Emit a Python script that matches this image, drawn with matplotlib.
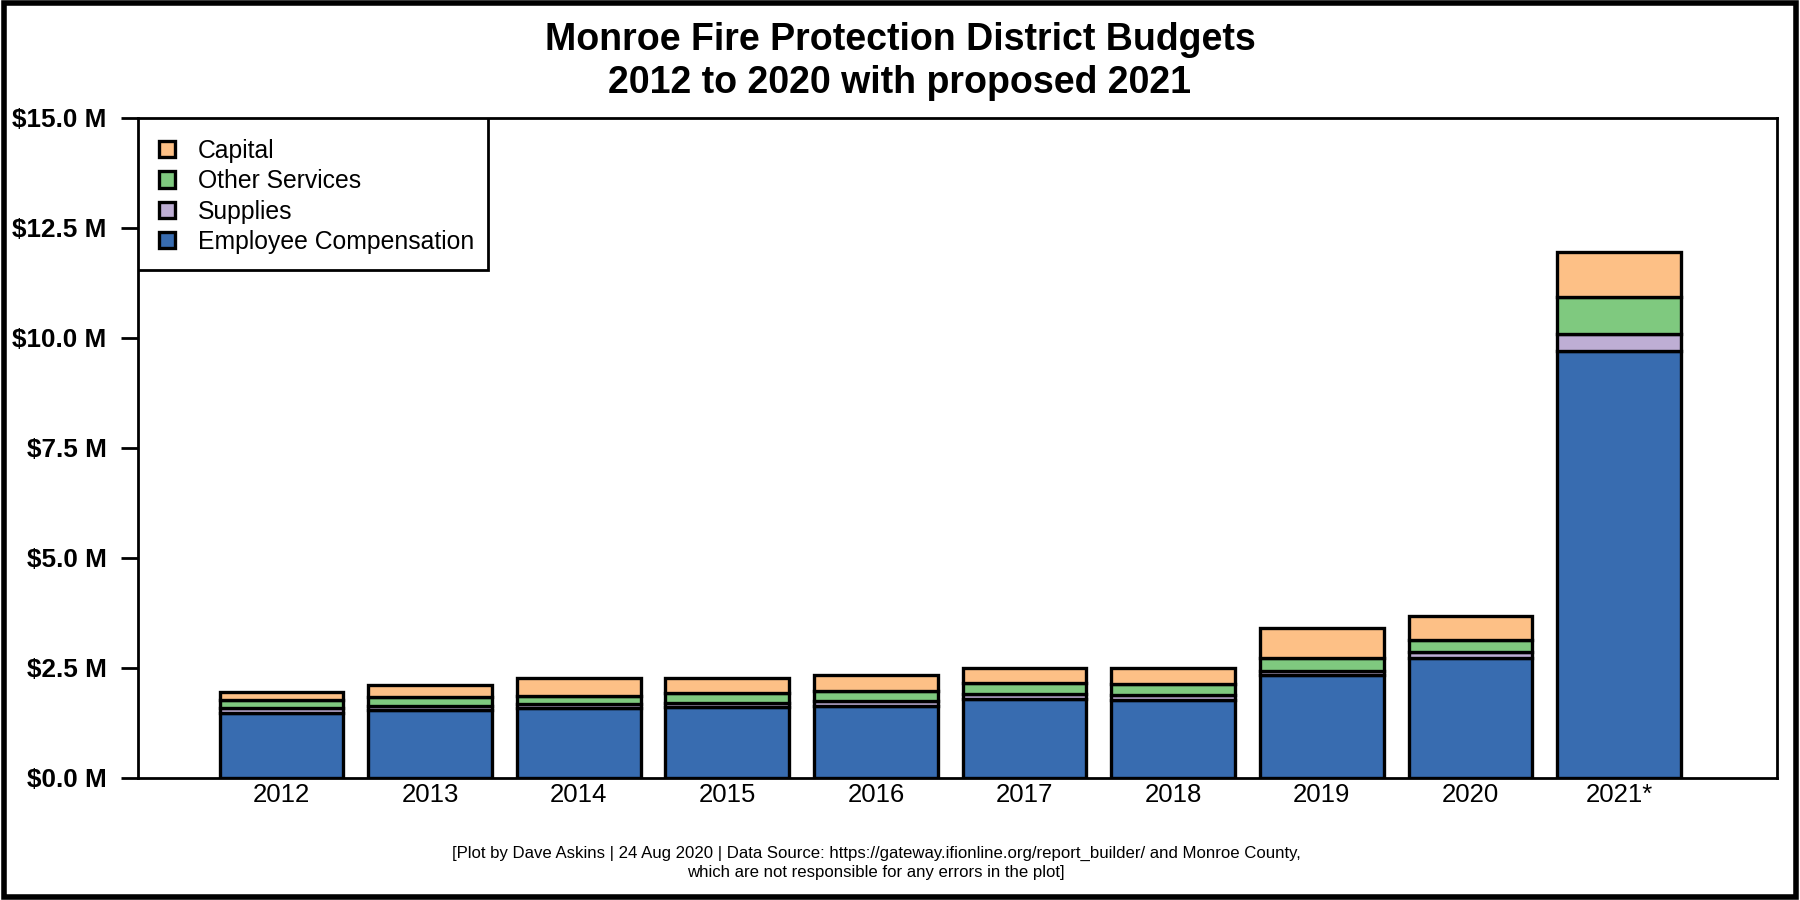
import matplotlib
matplotlib.use("Agg")
import matplotlib.pyplot as plt
from matplotlib.patches import Patch, Rectangle
import numpy as np

years = ["2012", "2013", "2014", "2015", "2016", "2017", "2018", "2019", "2020", "2021*"]
employee = [1.48, 1.54, 1.58, 1.61, 1.64, 1.80, 1.78, 2.33, 2.72, 9.70]
supplies = [0.10, 0.10, 0.10, 0.09, 0.10, 0.11, 0.11, 0.11, 0.14, 0.38]
other = [0.19, 0.19, 0.19, 0.22, 0.24, 0.24, 0.24, 0.29, 0.28, 0.84]
capital = [0.19, 0.29, 0.40, 0.36, 0.35, 0.36, 0.38, 0.67, 0.53, 1.04]

series_names = ["Employee Compensation", "Supplies", "Other Services", "Capital"]
series_colors = ["#386CB0", "#BEAED4", "#7FC97F", "#FDC086"]
yticks = [0, 2.5, 5.0, 7.5, 10.0, 12.5, 15.0]
ytick_labels = ["$0.0 M", "$2.5 M", "$5.0 M", "$7.5 M", "$10.0 M", "$12.5 M", "$15.0 M"]

title1 = "Monroe Fire Protection District Budgets"
title2 = "2012 to 2020 with proposed 2021"
foot1 = ("[Plot by Dave Askins | 24 Aug 2020 | Data Source: https://gateway.ifionline.org/report_builder/ "
         "and Monroe County,")
foot2 = "which are not responsible for any errors in the plot]"

plt.rcParams['font.family'] = ['Liberation Sans', 'DejaVu Sans']

fig = plt.figure(figsize=(18, 9), dpi=100)
ax = fig.add_axes([0.0767, 0.1356, 0.9103, 0.7334])

x = np.arange(len(years))
bottom = np.zeros(len(years))
for vals, name, col in zip([employee, supplies, other, capital], series_names, series_colors):
    ax.bar(x, vals, width=0.833, bottom=bottom, color=col, edgecolor="black",
           linewidth=2.4, label=name, zorder=3)
    bottom += np.array(vals)

ax.set_xlim(-0.965, 10.06)
ax.set_ylim(0, 15)
ax.set_yticks(yticks)
ax.set_yticklabels(ytick_labels, fontsize=18.8, fontweight="bold")
ax.tick_params(axis="y", direction="out", length=12, width=2, pad=10.6)
ax.set_xticks(x)
ax.set_xticklabels(years, fontsize=18.5)
ax.tick_params(axis="x", length=0, pad=3.5)
for s in ax.spines.values():
    s.set_linewidth(2)

# legend frame drawn separately
ax.add_patch(Rectangle((0, 1 - 0.2303), 0.2135, 0.2303, transform=ax.transAxes,
                       facecolor="white", edgecolor="black", linewidth=2, zorder=5))
handles = [Patch(facecolor=c, edgecolor="black", linewidth=2.4, label=n)
           for n, c in zip(series_names[::-1], series_colors[::-1])]
leg = ax.legend(handles=handles, loc="upper left", fontsize=17.8, frameon=False,
                handlelength=0.65, handleheight=0.65, handletextpad=0.93,
                labelspacing=0.255, borderaxespad=0, borderpad=0.85)
leg.set_zorder(6)

fig.text(0.5, 0.9556, title1, ha="center", va="center", fontsize=27, fontweight="bold")
fig.text(0.5, 0.9078, title2, ha="center", va="center", fontsize=27, fontweight="bold")
fig.text(0.4866, 0.052, foot1, ha="center", va="center", fontsize=12.1)
fig.text(0.4866, 0.031, foot2, ha="center", va="center", fontsize=12.1)

fig.patches.append(Rectangle((0.002, 0.003), 0.996, 0.994, transform=fig.transFigure,
                             fill=False, edgecolor="black", linewidth=4))

fig.savefig("out.png", dpi=100)
